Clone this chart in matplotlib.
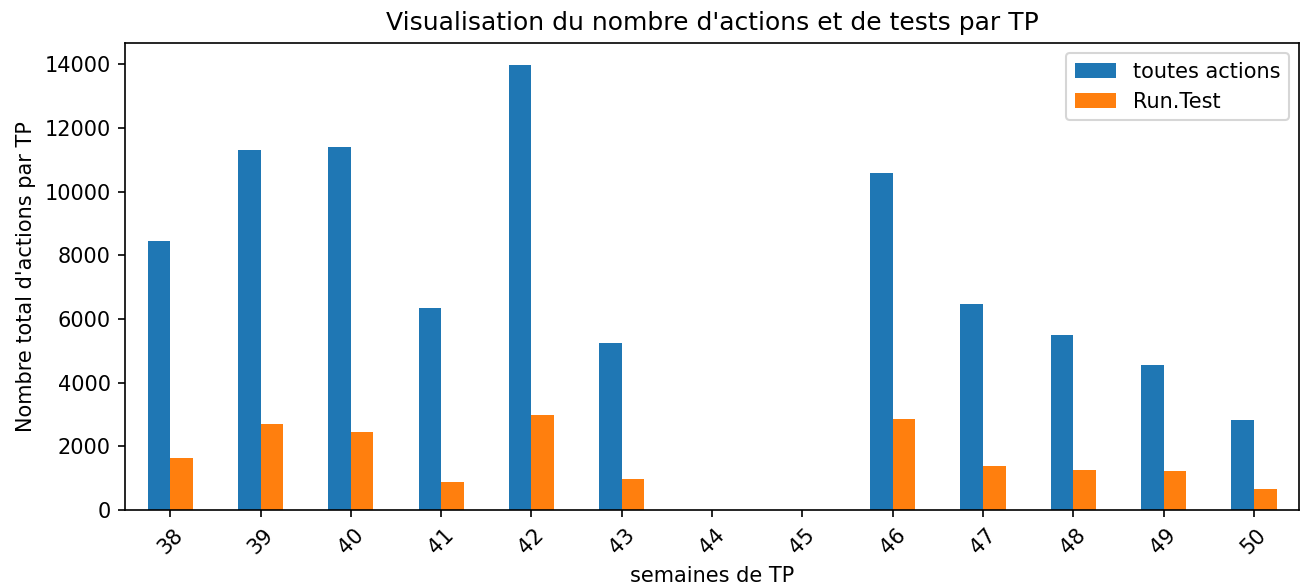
import pandas as pd
import matplotlib
matplotlib.use('Agg')
import matplotlib.pyplot as plt

semaines = [38, 39, 40, 41, 42, 43, 44, 45, 46, 47, 48, 49, 50]
toutes_actions = [8450, 11300, 11390, 6360, 13970, 5260, 0, 0, 10590, 6460, 5500, 4550, 2835]
run_test = [1650, 2690, 2460, 890, 2970, 980, 0, 0, 2845, 1400, 1265, 1215, 650]


def paint():
    df = pd.DataFrame({'toutes actions': toutes_actions, 'Run.Test': run_test},
                      index=semaines)

    fig, ax = plt.subplots(figsize=(1303 / 150, 587 / 150), dpi=150)
    df.plot(kind='bar', ax=ax, rot=45)

    ax.set_title("Visualisation du nombre d'actions et de tests par TP", fontsize=12)
    ax.set_xlabel("semaines de TP")
    ax.set_ylabel("Nombre total d'actions par TP")
    ax.legend(loc='upper right')

    fig.subplots_adjust(left=0.096, right=0.997, top=0.927, bottom=0.131)
    fig.savefig('out.png', dpi=150)


paint()
